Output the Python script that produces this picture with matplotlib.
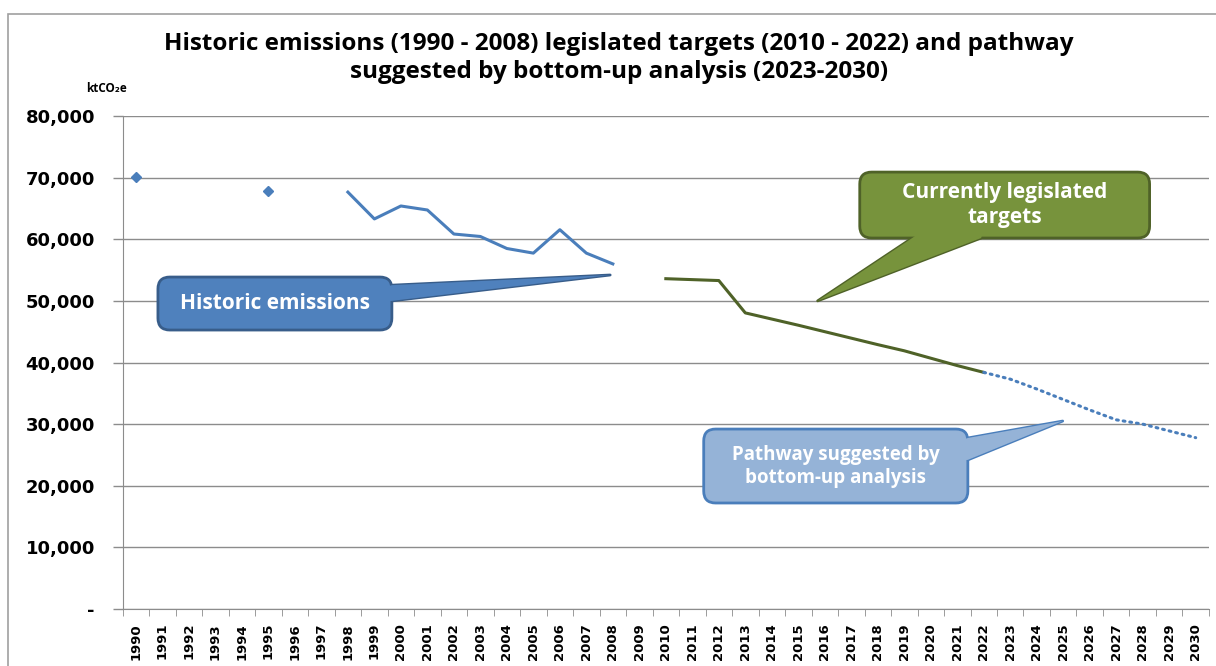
import numpy as np
import matplotlib
matplotlib.use("Agg")
from matplotlib import pyplot as plt
from matplotlib.patches import FancyBboxPatch, Polygon, Rectangle

years = list(range(1990, 2031))

# historic emissions (ktCO2e)
hist_points_years = [1990, 1995]
hist_points = [70150, 67800]
hist_years = list(range(1998, 2009))
hist_values = [67650, 63300, 65400, 64750, 60850, 60450, 58500, 57750, 61550, 57750, 56000]

# legislated targets
target_years = list(range(2010, 2023))
target_values = [53600, 53450, 53300, 48050, 47050, 46050, 45000, 43950, 42900, 41900, 40700, 39500, 38400]

# bottom-up pathway
path_years = list(range(2022, 2031))
path_values = [38400, 37300, 35700, 34000, 32300, 30700, 30000, 28900, 27800]

title = ("Historic emissions (1990 - 2008) legislated targets (2010 - 2022) and pathway\n"
         "suggested by bottom-up analysis (2023-2030)")

BLUE = "#4A7EBB"
GREEN_LINE = "#4F6228"

def idx(ys):
    return [years.index(y) for y in ys]

fig = plt.figure(figsize=(12.16, 6.66), dpi=100)
ax = fig.add_axes([0.1009, 0.0856, 0.8933, 0.7402])

ax.set_xlim(-0.5, len(years) - 0.5)
ax.set_ylim(0, 80000)

ax.plot(idx(hist_points_years), hist_points, linestyle="none", marker="D",
        markersize=5, color=BLUE, zorder=3)
ax.plot(idx(hist_years), hist_values, color=BLUE, lw=2.2, zorder=3)
ax.plot(idx(target_years), target_values, color=GREEN_LINE, lw=2.2, zorder=3)
ax.plot(idx(path_years), path_values, color=BLUE, lw=2.2, linestyle=(0, (0.6, 1.6)),
        dash_capstyle="round", zorder=3)

# grid and axes
ax.set_yticks(np.arange(0, 80001, 10000))
ax.set_yticklabels(["-" if v == 0 else f"{v:,}" for v in range(0, 80001, 10000)],
                   fontsize=13, fontweight="bold", family="DejaVu Sans")
ax.yaxis.grid(True, color="#8c8c8c", lw=1)
ax.set_axisbelow(True)
ax.tick_params(axis="y", length=7, width=1, color="#8c8c8c", pad=13)

ax.set_xticks(range(len(years)))
ax.set_xticklabels([str(y) for y in years], rotation=90, fontsize=9.5,
                   fontweight="bold", family="DejaVu Sans")
ax.set_xticks(np.arange(-0.5, len(years), 1), minor=True)
ax.tick_params(axis="x", which="major", length=0, pad=10)
ax.tick_params(axis="x", which="minor", length=5, color="#8c8c8c")

for s in ["top", "right"]:
    ax.spines[s].set_visible(False)
for s in ["left", "bottom"]:
    ax.spines[s].set_color("#8c8c8c")

# outer chart border
fig.patches.append(Rectangle((8 / 1216, -0.1), 1.2, 652 / 666 + 0.1,
                             transform=fig.transFigure, fill=False,
                             edgecolor="#a0a0a0", lw=1.2))

fig.text(0.509, 0.913, title, ha="center", va="center", fontsize=17.5,
         fontweight="bold", family="Open Sans", linespacing=1.2)
ax.text(-1.13, 84400, "ktCO₂e", fontsize=8.5, fontweight="bold",
        family=["Open Sans", "DejaVu Sans"], ha="center", va="center")

# callouts (box in data coords, tail base on box edge, tail tip)
aspect = 80000 / 493 * 26.5


def callout(x0, x1, y0, y1, base, tip, fc, ec, text, fs):
    tail = Polygon([base[0], tip, base[1]], closed=True, fc=fc, ec=ec, lw=2,
                   zorder=5, joinstyle="round")
    ax.add_patch(tail)
    box = FancyBboxPatch((x0, y0), x1 - x0, y1 - y0,
                         boxstyle="round,pad=0,rounding_size=0.45",
                         mutation_aspect=aspect, fc=fc, ec=ec, lw=2, zorder=6)
    ax.add_patch(box)
    # cover the box border where the tail joins
    cx = (x0 + x1) / 2
    cy = (y0 + y1) / 2
    inner = [(b[0] + (cx - b[0]) * 0.04, b[1] + (cy - b[1]) * 0.08) for b in base]
    cover = Polygon([inner[0], base[0], tip, base[1], inner[1]], closed=True,
                    fc=fc, ec="none", zorder=7)
    ax.add_patch(cover)
    ax.text(cx, cy, text, ha="center", va="center", color="white",
            fontsize=fs, fontweight="bold", family="Open Sans", zorder=8, linespacing=1.2)


callout(0.83, 9.66, 45270, 53870, [(9.66, 52550), (9.66, 50000)], (17.9, 54200),
        "#4F81BD", "#385D8A", "Historic emissions", 15)
callout(27.32, 38.26, 60200, 70900, [(29.3, 60200), (31.9, 60200)], (25.73, 50000),
        "#77933C", "#4F6228", "Currently legislated\ntargets", 15)
callout(21.43, 31.4, 17200, 29200, [(31.4, 27750), (31.4, 24200)], (34.98, 30500),
        "#95B3D7", "#4A7EBB", "Pathway suggested by\nbottom-up analysis", 13.5)

fig.savefig("out.png", dpi=100)
